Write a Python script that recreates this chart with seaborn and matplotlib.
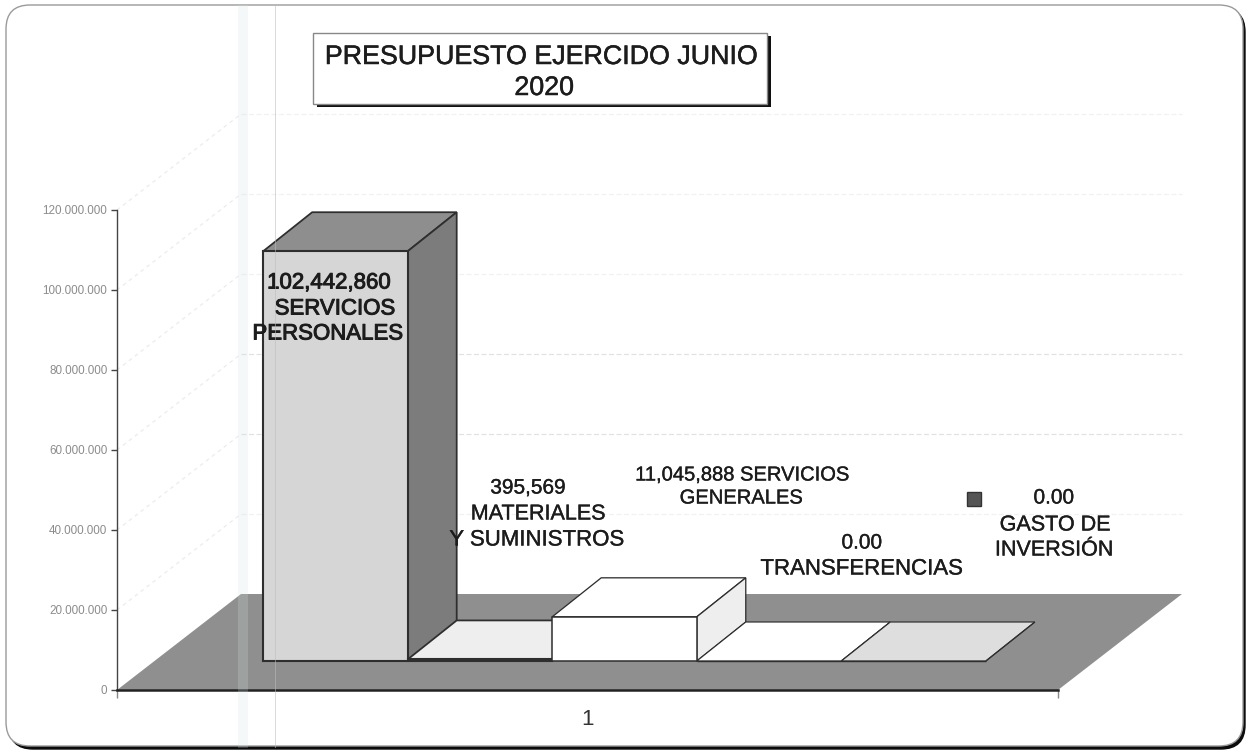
import pandas as pd
import matplotlib.pyplot as plt
import seaborn as sns
import matplotlib.patheffects as pe
from matplotlib.patches import Polygon, Rectangle, FancyBboxPatch
from matplotlib.ticker import FuncFormatter, FixedLocator
from matplotlib.transforms import Affine2D, IdentityTransform

# data
series = ["SERVICIOS PERSONALES", "MATERIALES Y SUMINISTROS", "SERVICIOS GENERALES",
          "TRANSFERENCIAS", "GASTO DE INVERSION"]
values = [102442860, 395569, 11045888, 0, 0]
category = ["1"] * 5
y_ticks = [0, 20000000, 40000000, 60000000, 80000000, 100000000, 120000000]
front_colors = ["#d6d6d6", "#eeeeee", "#ffffff", "#ffffff", "#dedede"]
top_colors = ["#8e8e8e", "#eeeeee", "#ffffff", "#ffffff", "#dedede"]
side_colors = ["#7c7c7c", "#eeeeee", "#eeeeee", "#ffffff", "#dedede"]
edge_widths = [1.5, 1.5, 1.1, 1.0, 1.0]

W, H = 1251, 751
sns.set_style("white")
plt.rcParams["font.family"] = ["Liberation Sans", "DejaVu Sans"]

fig = plt.figure(figsize=(W / 100, H / 100), dpi=100)
fig.patch.set_facecolor("white")
px = IdentityTransform()


def flip(y):
    # picture pixels count from the top, matplotlib from the bottom
    return H - y


def label(x, y, txt, size, stroke=0.25):
    fig.text(x / W, 1 - y / H, txt, ha="center", va="center", fontsize=size, color="#1c1c1c", zorder=6,
             path_effects=[pe.withStroke(linewidth=stroke, foreground="#1c1c1c")])


# rounded frame with the heavy edge below and on the right
fig.add_artist(FancyBboxPatch((9, flip(749)), 1236, 741, boxstyle="round,pad=0,rounding_size=24",
                              fc="#0c0c0c", ec="#0c0c0c", lw=1, transform=px, zorder=-3))
fig.add_artist(FancyBboxPatch((6, flip(746)), 1237, 741, boxstyle="round,pad=0,rounding_size=24",
                              fc="white", ec="#9a9a9a", lw=1, transform=px, zorder=-2))

ax = fig.add_axes([117 / W, (H - 690) / H, (1058 - 117) / W, 480 / H])
ax.patch.set_alpha(0)

df = pd.DataFrame({"cat": category, "serie": series, "valor": values})
sns.barplot(data=df, x="cat", y="valor", hue="serie", hue_order=series, palette=front_colors,
            saturation=1, width=0.768, gap=0, legend=False, edgecolor="#2e2e2e", linewidth=1.4,
            errorbar=None, ax=ax, zorder=3)

ax.set_xlim(-0.5, 0.5)
ax.set_ylim(0, 120000000)
ax.set_xlabel("")
ax.set_ylabel("")
ax.yaxis.set_major_locator(FixedLocator(y_ticks))
ax.yaxis.set_major_formatter(FuncFormatter(lambda v, p: f"{v:,.0f}".replace(",", ".")))
ax.tick_params(axis="y", left=True, length=4, width=1, color="#444444", labelcolor="#8c8c8c",
               labelsize=8.4, pad=3)
ax.tick_params(axis="x", bottom=False, labelsize=16, labelcolor="#333333", pad=10)
ax.set_xticks([-0.5, 0.5], minor=True)
ax.tick_params(axis="x", which="minor", bottom=True, length=6, width=1, color="#888888")
sns.despine(ax=ax)
ax.spines["left"].set_color("#444444")
ax.spines["left"].set_linewidth(1)
ax.spines["bottom"].set_color("#222222")
ax.spines["bottom"].set_linewidth(1.8)
ax.spines["bottom"].set_zorder(2.5)

# depth of the fake 3D box: floor/walls, and the depth of each bar
wall_dx, wall_dy = 124, 96
bar_dx, bar_dy = 49, 39
shift_x, shift_y = 37, 29

x0, y0 = ax.transData.transform((-0.5, 0))
x1, _ = ax.transData.transform((0.5, 0))
ax.add_patch(Polygon([(x0, y0), (x1, y0), (x1 + wall_dx, y0 + wall_dy), (x0 + wall_dx, y0 + wall_dy)],
                     fc="#8f8f8f", ec="none", transform=px, zorder=1, clip_on=False))

# very faint grid left on the scan, side wall then back wall
for t in y_ticks[1:]:
    _, yy = ax.transData.transform((0, t))
    col = "#e2e2e2" if t in (40000000, 60000000) else "#f1f1f1"
    ax.plot([x0, x0 + wall_dx], [yy, yy + wall_dy], color="#ececec", lw=0.9, ls=(0, (3, 3)),
            transform=px, zorder=0.5, clip_on=False)
    ax.plot([x0 + wall_dx, x1 + wall_dx], [yy + wall_dy, yy + wall_dy], color=col, lw=0.9,
            ls=(0, (4, 2)), transform=px, zorder=0.5, clip_on=False)

# front faces come from seaborn, only moved onto the floor; top and side follow from them
to_floor = Affine2D().translate(shift_x, shift_y)
for i, (bar, top_c, side_c, lw) in enumerate(zip(ax.patches[:5], top_colors, side_colors, edge_widths)):
    z = 3 + i * 0.1
    xa, ya = ax.transData.transform((bar.get_x(), 0))
    xb, yb = ax.transData.transform((bar.get_x() + bar.get_width(), bar.get_height()))
    bar.set_transform(ax.transData + to_floor)
    bar.set_clip_on(False)
    bar.set_zorder(z + 0.05)
    bar.set_linewidth(lw)
    xa, xb, ya, yb = xa + shift_x, xb + shift_x, ya + shift_y, yb + shift_y
    top = [(xa, yb), (xb, yb), (xb + bar_dx, yb + bar_dy), (xa + bar_dx, yb + bar_dy)]
    side = [(xb, ya), (xb + bar_dx, ya + bar_dy), (xb + bar_dx, yb + bar_dy), (xb, yb)]
    ax.add_patch(Polygon(top, fc=top_c, ec="#2e2e2e", lw=lw * 0.85, transform=px, zorder=z, clip_on=False))
    ax.add_patch(Polygon(side, fc=side_c, ec="#2e2e2e", lw=lw * 0.85, transform=px, zorder=z, clip_on=False))

# data labels
label(329, 283, "102,442,860", 16, 0.7)
label(335, 309, "SERVICIOS", 16, 0.7)
label(328, 334, "PERSONALES", 16, 0.7)
label(528, 488, "395,569", 15)
label(538, 514, "MATERIALES", 15.5)
label(537, 540, "Y SUMINISTROS", 16)
label(742, 475, "11,045,888 SERVICIOS", 14.5)
label(741, 498, "GENERALES", 14.5)
label(862, 543, "0.00", 15)
label(862, 569, "TRANSFERENCIAS", 16)
label(1054, 498, "0.00", 15)
label(1055, 525, "GASTO DE", 15.5)
label(1054, 550, "INVERSIÓN", 15.5)
fig.add_artist(Rectangle((967, flip(506)), 14, 14, fc="#555555", ec="#333333", lw=1, transform=px, zorder=5))

# title box with hard shadow
fig.add_artist(Rectangle((317, flip(107)), 454, 71, fc="#111111", ec="none", transform=px, zorder=5))
fig.add_artist(Rectangle((313, flip(104)), 454, 71, fc="white", ec="#888888", lw=1, transform=px, zorder=5))
label(541, 57, "PRESUPUESTO EJERCIDO JUNIO", 19.3, 0.35)
label(544, 88, "2020", 19.3, 0.35)

# scanner streaks
fig.add_artist(Rectangle((238, flip(748)), 10, 743, fc="#cfe3e0", ec="none", alpha=0.22, transform=px, zorder=7))
fig.add_artist(Rectangle((274.5, flip(748)), 1.5, 743, fc="#d9a8d4", ec="none", alpha=0.55, transform=px, zorder=7))

fig.savefig("out.png", dpi=100)
